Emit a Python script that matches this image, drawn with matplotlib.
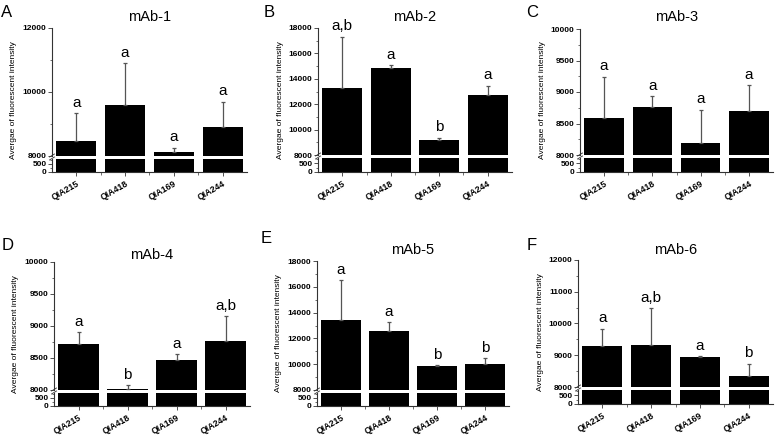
import matplotlib.pyplot as plt
import numpy as np
from matplotlib.lines import Line2D
from matplotlib.ticker import MultipleLocator, FixedLocator

plt.rcParams['font.family'] = ['Liberation Sans', 'DejaVu Sans']

# dados
strains = ['QIA215', 'QIA418', 'QIA169', 'QIA244']
titles = ['mAb-1', 'mAb-2', 'mAb-3', 'mAb-4', 'mAb-5', 'mAb-6']
panel_letters = ['A', 'B', 'C', 'D', 'E', 'F']

mean_1 = [8480, 9580, 8125, 8900]
sd_1 = [870, 1320, 135, 800]
mean_2 = [13260, 14860, 9180, 12690]
sd_2 = [4060, 230, 180, 780]
mean_3 = [8580, 8765, 8185, 8700]
sd_3 = [665, 175, 535, 405]
mean_4 = [8715, 8010, 8475, 8765]
sd_4 = [195, 65, 80, 390]
mean_5 = [13400, 12545, 9895, 10000]
sd_5 = [3090, 705, 55, 470]
mean_6 = [9305, 9325, 8950, 8340]
sd_6 = [535, 1165, 30, 400]

sig_1 = ['a', 'a', 'a', 'a']
sig_2 = ['a,b', 'a', 'b', 'a']
sig_3 = ['a', 'a', 'a', 'a']
sig_4 = ['a', 'b', 'a', 'a,b']
sig_5 = ['a', 'a', 'b', 'b']
sig_6 = ['a', 'a,b', 'a', 'b']

# eixo superior: topo, passo maior, passo menor
y_top = [12000, 18000, 10000, 10000, 18000, 12000]
y_major = [2000, 2000, 500, 500, 2000, 1000]
y_minor = [1000, 1000, 250, 250, 1000, 500]

means = [mean_1, mean_2, mean_3, mean_4, mean_5, mean_6]
sds = [sd_1, sd_2, sd_3, sd_4, sd_5, sd_6]
sigs = [sig_1, sig_2, sig_3, sig_4, sig_5, sig_6]

W, H = 778, 438
# caixas em pixels: esquerda, direita, topo, corte (8000), base
boxes = [(52, 247, 28, 156, 172),
         (318, 512, 28, 155, 172),
         (580, 773, 29, 155, 172),
         (54, 250, 262, 390, 406),
         (317, 509, 261, 390, 406),
         (578, 773, 260, 387, 404)]
letter_pos = [(1, 5), (264, 5), (526, 5), (2, 238), (261, 231), (527, 238)]
title_y = [17, 17, 17, 255, 250, 250]


def fbox(l, r, t, b):
    return [l / W, 1 - b / H, (r - l) / W, (b - t) / H]


fig = plt.figure(figsize=(W / 100, H / 100), dpi=100)
x = np.arange(1, 5)
spine_c = '#333333'

for i in range(6):
    l, r, t, cut, b = boxes[i]
    ax_up = fig.add_axes(fbox(l, r, t, cut))
    ax_lo = fig.add_axes(fbox(l, r, cut + 3, b))

    for ax in (ax_up, ax_lo):
        ax.bar(x, means[i], width=0.82, color='black')
        ax.set_xlim(0.5, 4.5)
        ax.spines['top'].set_visible(False)
        ax.spines['right'].set_visible(False)
        ax.spines['left'].set_color(spine_c)
        ax.spines['bottom'].set_color(spine_c)
        ax.spines['left'].set_linewidth(0.8)
        ax.spines['bottom'].set_linewidth(0.8)
        ax.tick_params(axis='y', which='major', direction='out', length=3, width=0.6,
                       labelsize=6, pad=1, colors=spine_c, labelcolor='black')
        ax.tick_params(axis='y', which='minor', direction='out', length=1.5, width=0.5,
                       colors=spine_c)

    # barras de erro só para cima
    ax_up.errorbar(x, means[i], yerr=[np.zeros(4), sds[i]], fmt='none',
                   ecolor='#555555', elinewidth=0.9, capsize=1.5, capthick=0.9)
    ax_up.set_ylim(8000, y_top[i])
    ax_up.yaxis.set_major_locator(MultipleLocator(y_major[i]))
    ax_up.yaxis.set_minor_locator(MultipleLocator(y_minor[i]))
    ax_up.spines['bottom'].set_visible(False)
    ax_up.set_xticks([])
    for lab in ax_up.get_yticklabels():
        lab.set_fontweight('bold')

    ax_lo.set_ylim(0, 800)
    ax_lo.set_yticks([0, 500])
    ax_lo.yaxis.set_minor_locator(MultipleLocator(250))
    for lab in ax_lo.get_yticklabels():
        lab.set_fontweight('bold')
    ax_lo.set_xticks(x)
    ax_lo.set_xticklabels(strains, rotation=30, ha='right', rotation_mode='anchor',
                          fontsize=6.3, fontweight='bold')
    ax_lo.xaxis.set_minor_locator(FixedLocator(x[:-1] + 0.5))
    ax_lo.tick_params(axis='x', which='major', direction='out', length=3, width=0.6,
                      pad=2, colors=spine_c, labelcolor='black')
    ax_lo.tick_params(axis='x', which='minor', direction='out', length=2, width=0.5,
                      colors=spine_c)

    # letras de significância
    for xi, m, s, txt in zip(x, means[i], sds[i], sigs[i]):
        ax_up.annotate(txt, (xi, m + s), xytext=(0, 4.5), textcoords='offset points',
                       ha='center', va='baseline', fontsize=11)

    # marca de quebra do eixo
    for dy in (0, 3):
        fig.add_artist(Line2D([(l - 2.5) / W, (l + 2.5) / W],
                              [1 - (cut + 1 + dy) / H, 1 - (cut - 2 + dy) / H],
                              color=spine_c, lw=0.6))

    fig.text((l + r) / 2 / W, 1 - title_y[i] / H, titles[i], ha='center', va='center',
             fontsize=10.5)
    fig.text(letter_pos[i][0] / W, 1 - letter_pos[i][1] / H, panel_letters[i],
             ha='left', va='top', fontsize=12)
    fig.text((l - 38) / W, 1 - (t + b) / 2 / H, 'Avergae of fluorescent intensity',
             rotation=90, ha='center', va='center', fontsize=6)

fig.savefig('out.png', dpi=100)
